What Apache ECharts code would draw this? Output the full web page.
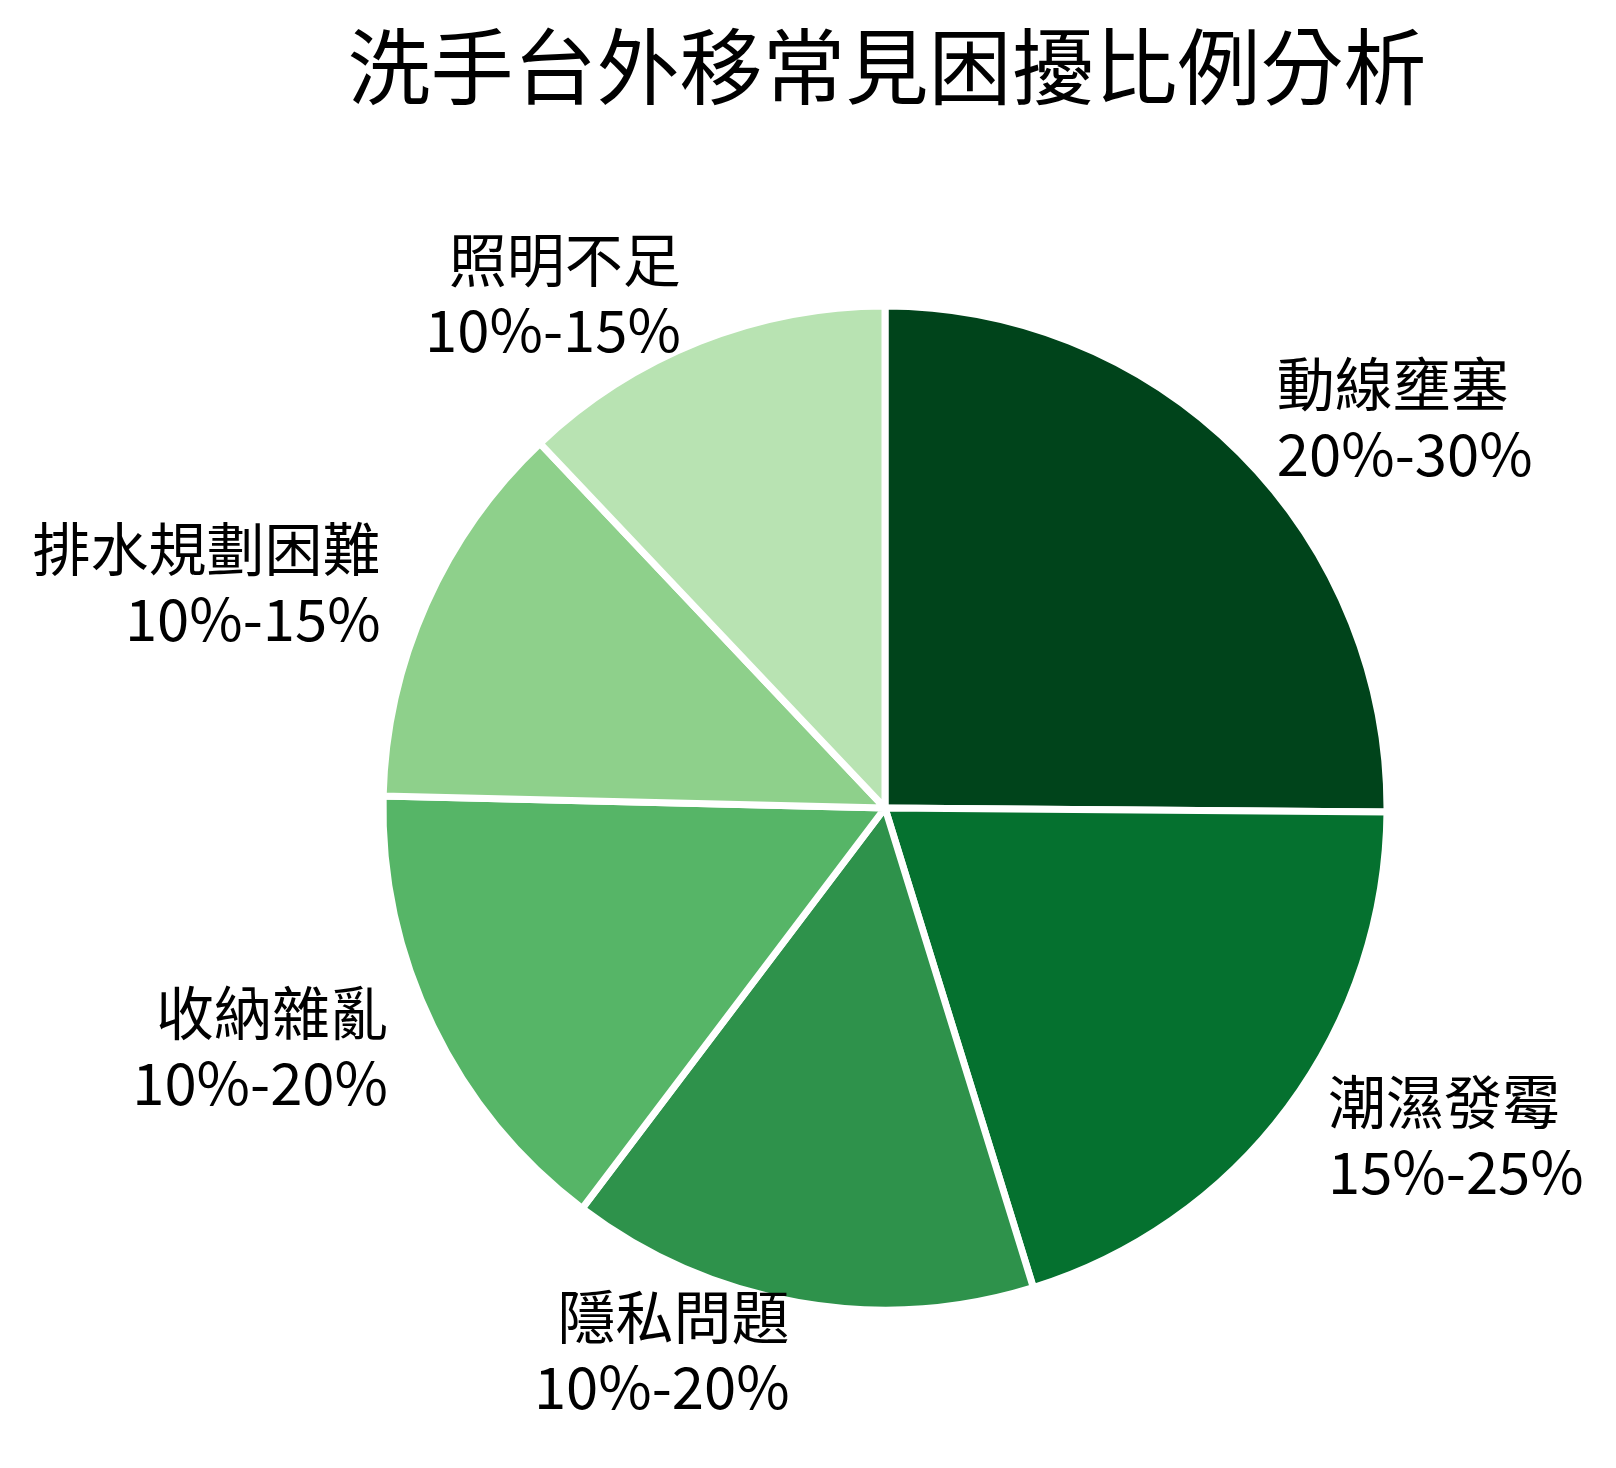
<!DOCTYPE html>
<html>
<head>
<meta charset="utf-8">
<script src="https://cdn.jsdelivr.net/npm/echarts@6/dist/echarts.min.js"></script>
<style>
html,body{margin:0;padding:0;background:#fff;}
#chart{width:1616px;height:1468px;}
</style>
</head>
<body>
<div id="chart"></div>
<script>
const titleText = '洗手台外移常見困擾比例分析';
const categories = ['動線壅塞', '潮濕發霉', '隱私問題', '收納雜亂', '排水規劃困難', '照明不足'];
const ranges = ['20%-30%', '15%-25%', '10%-20%', '10%-20%', '10%-15%', '10%-15%'];
const values = [25, 20, 15, 15, 12.5, 12];
const colors = ['#00441b', '#05712f', '#2e924b', '#56b567', '#8ed08b', '#b8e3b2'];

const font = '"Noto Sans CJK TC", "Noto Sans CJK SC", "Noto Sans", sans-serif';
const chart = echarts.init(document.getElementById('chart'), null, {renderer: 'canvas'});
chart.setOption({
  backgroundColor: '#ffffff',
  animation: false,
  graphic: [{
    type: 'text',
    x: 887,
    y: 66,
    style: {
      text: titleText,
      align: 'center',
      verticalAlign: 'middle',
      fontFamily: font,
      fontSize: 83,
      fill: '#000'
    }
  }],
  color: colors,
  series: [{
    type: 'pie',
    center: [885, 808],
    radius: 502,
    startAngle: 90,
    clockwise: true,
    avoidLabelOverlap: false,
    data: categories.map((c, i) => ({name: c, value: values[i]})),
    itemStyle: {borderColor: '#ffffff', borderWidth: 7},
    label: {
      show: true,
      position: 'outside',
      distanceToLabelLine: 0,
      formatter: p => p.name + '\n' + ranges[p.dataIndex],
      fontFamily: font,
      fontSize: 58,
      lineHeight: 70,
      color: '#000'
    },
    labelLine: {show: false, length: 50, length2: 0},
    emphasis: {disabled: true}
  }]
});
</script>
</body>
</html>
